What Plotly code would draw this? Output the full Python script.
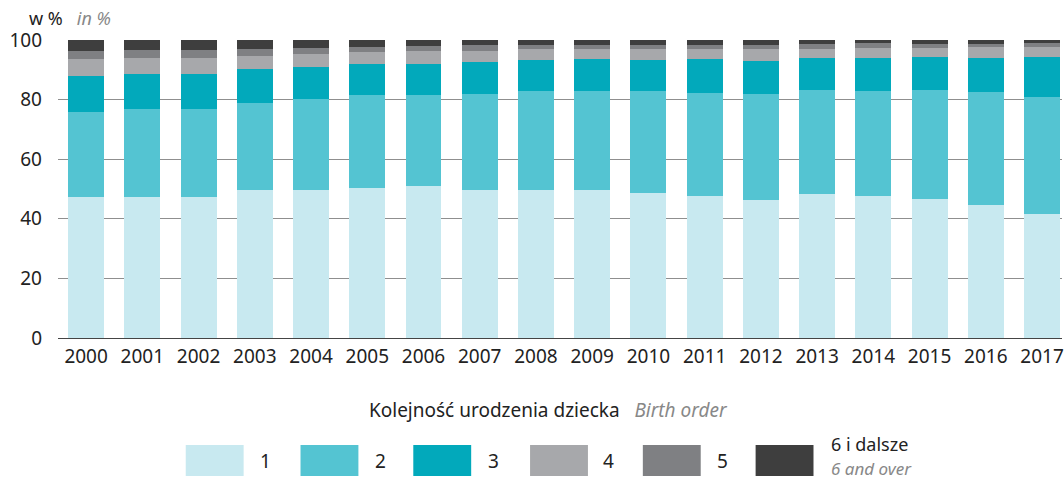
import plotly.graph_objects as go

# Birth order shares of live births, in %
years = [str(y) for y in range(2000, 2018)]
order_1 = [47.2, 47.2, 47.2, 49.5, 49.8, 50.2, 50.9, 49.5, 49.8, 49.8, 48.8, 47.5, 46.2, 48.2, 47.5, 46.5, 44.5, 41.5]
order_2 = [28.5, 29.5, 29.5, 29.2, 30.5, 31.5, 30.8, 32.5, 33.2, 33.2, 34.2, 34.8, 35.8, 35.1, 35.5, 36.8, 38.2, 39.5]
order_3 = [12.3, 12.0, 12.0, 11.6, 10.7, 10.3, 10.3, 10.7, 10.3, 10.7, 10.3, 11.4, 11.0, 10.7, 11.0, 11.0, 11.3, 13.3]
order_4 = [5.7, 5.3, 5.3, 4.4, 4.3, 4.0, 4.3, 3.6, 3.7, 3.3, 3.7, 3.3, 4.0, 3.0, 3.3, 3.0, 3.7, 3.4]
order_5 = [2.6, 2.7, 2.7, 2.3, 2.0, 1.7, 1.7, 2.0, 1.3, 1.3, 1.3, 1.3, 1.3, 1.7, 1.7, 1.4, 1.0, 1.3]
order_6 = [3.7, 3.3, 3.3, 3.0, 2.7, 2.3, 2.0, 1.7, 1.7, 1.7, 1.7, 1.7, 1.7, 1.3, 1.0, 1.3, 1.3, 1.0]

series = [order_1, order_2, order_3, order_4, order_5, order_6]
names = ["1", "2", "3", "4", "5", "6 i dalsze"]
colors = ["#c8e9f0", "#54c4d2", "#02a9bb", "#a7a8ab", "#7f8083", "#3e3e3e"]
y_ticks = [0, 20, 40, 60, 80, 100]

FONT = "Noto Sans"
FS = 19
W, H = 1064, 480
ML, MR, MT, MB = 58, 0, 40, 142

fig = go.Figure()
for vals, name, col in zip(series, names, colors):
    fig.add_trace(go.Bar(x=years, y=vals, name=name, marker=dict(color=col, line=dict(width=0)),
                         showlegend=False))


def px_x(x):
    return (x - ML) / (W - ML - MR)


def px_y(y):
    return (H - MB - y) / (H - MT - MB)


shapes = []
annotations = []

# Legend swatches and labels
swatch_x = [186, 301, 414, 531, 644, 757]
label_x = [266, 381, 494, 610, 724]
for i, col in enumerate(colors):
    shapes.append(dict(type="rect", xref="paper", yref="paper",
                       x0=px_x(swatch_x[i]), x1=px_x(swatch_x[i] + 58),
                       y0=px_y(476), y1=px_y(445), fillcolor=col, line=dict(width=0)))
for i in range(5):
    annotations.append(dict(xref="paper", yref="paper", x=px_x(label_x[i]), y=px_y(461),
                            text=names[i], showarrow=False, xanchor="center", yanchor="middle",
                            font=dict(family=FONT, size=FS, color="#222")))
annotations.append(dict(xref="paper", yref="paper", x=px_x(831), y=px_y(444),
                        text="6 i dalsze", showarrow=False, xanchor="left", yanchor="middle",
                        font=dict(family=FONT, size=18, color="#222")))
annotations.append(dict(xref="paper", yref="paper", x=px_x(831), y=px_y(468),
                        text="<i>6 and over</i>", showarrow=False, xanchor="left", yanchor="middle",
                        font=dict(family=FONT, size=17, color="#888")))

# Legend heading
annotations.append(dict(xref="paper", yref="paper", x=px_x(368), y=px_y(410),
                        text="Kolejność urodzenia dziecka&nbsp;&nbsp;&nbsp;<i><span style='color:#888'>Birth order</span></i>",
                        showarrow=False, xanchor="left", yanchor="middle",
                        font=dict(family=FONT, size=FS, color="#222")))

# Unit label
annotations.append(dict(xref="paper", yref="paper", x=px_x(27), y=px_y(18),
                        text="w %&nbsp;&nbsp;&nbsp;<i><span style='color:#888'>in %</span></i>",
                        showarrow=False, xanchor="left", yanchor="middle",
                        font=dict(family=FONT, size=18, color="#222")))

fig.update_layout(
    barmode="stack",
    bargap=0.36,
    width=W, height=H,
    margin=dict(l=ML, r=MR, t=MT, b=MB, pad=0),
    paper_bgcolor="white", plot_bgcolor="white",
    font=dict(family=FONT, size=FS, color="#222"),
    shapes=shapes,
    annotations=annotations,
    xaxis=dict(type="category", range=[-0.5, 17.355], showgrid=False, showline=False,
               ticks="", tickfont=dict(size=FS, color="#222"), ticklabelstandoff=5),
    yaxis=dict(range=[0, 100], tickvals=y_ticks, showgrid=True, gridcolor="#8f8f8f", gridwidth=1,
               zeroline=True, zerolinecolor="#444", zerolinewidth=1, showline=False,
               ticks="", tickfont=dict(size=FS, color="#222"), ticklabelstandoff=15),
)

fig.write_html("out.html")
